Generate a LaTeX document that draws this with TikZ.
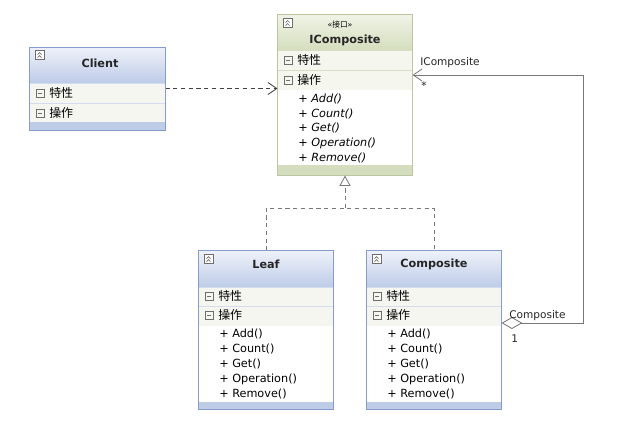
\documentclass[tikz,border=0pt]{standalone}
\usepackage{fontspec}
\setmainfont{DejaVu Sans}
\newfontfamily\cjk{Noto Sans CJK SC}
\usetikzlibrary{arrows.meta}
\usetikzlibrary{calc}
\usetikzlibrary{positioning}

\definecolor{greenTop}{RGB}{240,243,230}
\definecolor{greenBot}{RGB}{212,222,190}
\definecolor{greenLine}{RGB}{188,198,160}
\definecolor{greenRow}{RGB}{245,247,239}
\definecolor{blueTop}{RGB}{238,241,249}
\definecolor{blueBot}{RGB}{190,204,232}
\definecolor{blueLine}{RGB}{132,157,204}
\definecolor{blueRow}{RGB}{245,246,240}
\definecolor{iconGray}{RGB}{110,110,110}
\definecolor{connGray}{RGB}{120,120,120}

\tikzset{
  classbox/.style={draw, rectangle, inner sep=0pt, line width=0.7pt},
  classname/.style={inner sep=0pt, font=\bfseries\fontsize{8}{10}\selectfont, text=black!85},
  compart/.style={anchor=west, inner sep=0pt, font=\cjk\fontsize{8.5}{10}\selectfont},
  member/.style={anchor=west, inner sep=0pt, font=\fontsize{8}{10}\selectfont},
  endlabel/.style={anchor=west, inner sep=0pt, font=\fontsize{7.5}{9}\selectfont, text=black!85},
  depend/.style={draw=black!75, line width=0.6pt, dash pattern=on 3pt off 2.5pt, -{Straight Barb[length=0.22cm,width=0.3cm]}},
  realize/.style={draw=connGray, line width=0.6pt, dash pattern=on 3pt off 2.5pt},
  aggreg/.style={draw=connGray, line width=0.6pt, {Diamond[open,length=0.52cm,width=0.3cm]}-{Straight Barb[length=0.22cm,width=0.3cm]}},
}

\begin{document}
\begin{tikzpicture}[x=0.025cm, y=-0.025cm]
  \useasboundingbox (0,0) rectangle (631,430);

  % IComposite fills
  \shade[top color=greenTop, bottom color=greenBot] (278,15) rectangle (412,50);
  \fill[greenRow] (278,50) rectangle (412,90);
  \draw[greenLine!60] (278,50) -- (412,50) (278,70) -- (412,70);
  \fill[greenBot] (278,165) rectangle (412,175);

  % Client fills
  \shade[top color=blueTop, bottom color=blueBot] (30,47) rectangle (165,83);
  \fill[blueRow] (30,83) rectangle (165,122);
  \draw[blueLine!35] (30,83) -- (165,83) (30,103) -- (165,103);
  \fill[blueBot] (30,122) rectangle (165,130);

  % Leaf fills
  \shade[top color=blueTop, bottom color=blueBot] (199,251) rectangle (333,287);
  \fill[blueRow] (199,287) rectangle (333,326);
  \draw[blueLine!35] (199,287) -- (333,287) (199,306) -- (333,306);
  \fill[blueBot] (199,402) rectangle (333,409);

  % Composite fills
  \shade[top color=blueTop, bottom color=blueBot] (367,251) rectangle (501,287);
  \fill[blueRow] (367,287) rectangle (501,326);
  \draw[blueLine!35] (367,287) -- (501,287) (367,306) -- (501,306);
  \fill[blueBot] (367,402) rectangle (501,409);

  % outer boxes
  \node[classbox, draw=greenLine, minimum width=3.35cm, minimum height=4cm] (icomp) at (345,95) {};
  \node[classbox, draw=blueLine, minimum width=3.375cm, minimum height=2.075cm] (client) at (97.5,88.5) {};
  \node[classbox, draw=blueLine, minimum width=3.35cm, minimum height=3.95cm] (leaf) at (266,330) {};
  \node[classbox, draw=blueLine, minimum width=3.35cm, minimum height=3.95cm] (comp) at (434,330) {};

  % collapse icons
  \foreach \ix/\iy in {283/18, 35/50, 204/254, 372/254} {
    \draw[iconGray, fill=white, line width=0.4pt] (\ix,\iy) rectangle ++(9,9);
    \draw[iconGray, line width=0.5pt] (\ix+2.5,\iy+4.5) -- ++(2,-2) -- ++(2,2)
                                      (\ix+2.5,\iy+7.5) -- ++(2,-2) -- ++(2,2);
  }
  % minus boxes
  \foreach \ix/\iy in {284/56, 284/76, 36/89, 36/109, 205/292, 205/311, 373/292, 373/311} {
    \draw[iconGray, line width=0.4pt] (\ix,\iy) rectangle ++(8,8);
    \draw[iconGray, line width=0.5pt] (\ix+2,\iy+4) -- ++(4,0);
  }

  % IComposite texts
  \node[inner sep=0pt, font=\fontsize{5.5}{6}\selectfont] (ic-st) at (340,25) {«{\cjk 接口}»};
  \node[classname] (ic-name) at (345,40) {IComposite};
  \node[compart] (ic-attr) at (297,60) {特性};
  \node[compart] (ic-ops) at (297,80) {操作};
  \node[member, font=\itshape\fontsize{8}{10}\selectfont] (ic-m1) at (298,99) {+ Add()};
  \node[member, font=\itshape\fontsize{8}{10}\selectfont] (ic-m2) at (298,114) {+ Count()};
  \node[member, font=\itshape\fontsize{8}{10}\selectfont] (ic-m3) at (298,128) {+ Get()};
  \node[member, font=\itshape\fontsize{8}{10}\selectfont] (ic-m4) at (298,143) {+ Operation()};
  \node[member, font=\itshape\fontsize{8}{10}\selectfont] (ic-m5) at (298,158) {+ Remove()};

  % Client texts
  \node[classname] (cl-name) at (100,63) {Client};
  \node[compart] (cl-attr) at (49,93) {特性};
  \node[compart] (cl-ops) at (49,113) {操作};

  % Leaf texts
  \node[classname] (lf-name) at (266,264) {Leaf};
  \node[compart] (lf-attr) at (218,296) {特性};
  \node[compart] (lf-ops) at (218,315) {操作};
  \node[member] (lf-m1) at (219,334) {+ Add()};
  \node[member] (lf-m2) at (219,349) {+ Count()};
  \node[member] (lf-m3) at (219,364) {+ Get()};
  \node[member] (lf-m4) at (219,379) {+ Operation()};
  \node[member] (lf-m5) at (219,394) {+ Remove()};

  % Composite texts
  \node[classname] (cp-name) at (434,264) {Composite};
  \node[compart] (cp-attr) at (386,296) {特性};
  \node[compart] (cp-ops) at (386,315) {操作};
  \node[member] (cp-m1) at (387,334) {+ Add()};
  \node[member] (cp-m2) at (387,349) {+ Count()};
  \node[member] (cp-m3) at (387,364) {+ Get()};
  \node[member] (cp-m4) at (387,379) {+ Operation()};
  \node[member] (cp-m5) at (387,394) {+ Remove()};

  % connectors
  \draw[depend] (client.east) -- (client.east -| icomp.west);

  \coordinate (join) at (345,208);
  \draw[realize] (leaf.north) |- (join) -| (comp.north);
  \draw[realize, -{Triangle[open,length=0.26cm,width=0.28cm]}] (join) -- (icomp.south);

  \draw[aggreg] ([yshift=0.175cm]comp.east) -- ++(82,0) |- ([yshift=0.5cm]icomp.east);

  \node[endlabel] (lb-ic) at (420,63) {IComposite};
  \node[endlabel] (lb-many) at (421,86) {*};
  \node[endlabel] (lb-cp) at (509,316) {Composite};
  \node[endlabel] (lb-one) at (511,339) {1};
\end{tikzpicture}
\end{document}
